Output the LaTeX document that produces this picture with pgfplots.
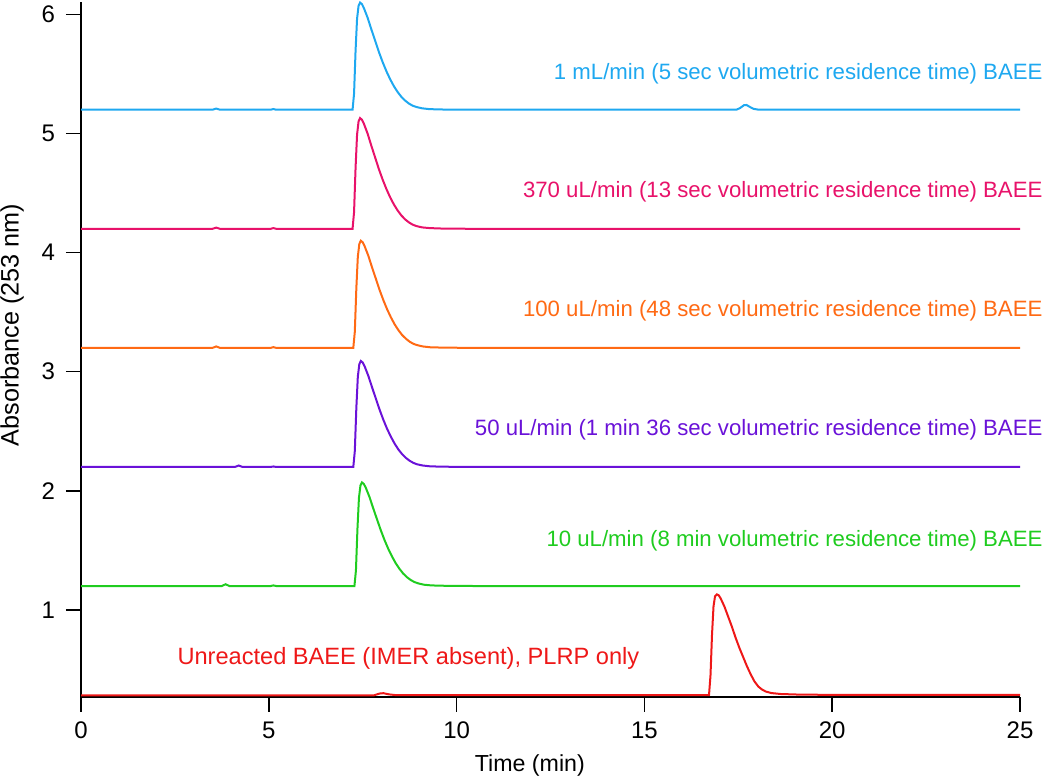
\documentclass[border=0pt]{standalone}
\usepackage{pgfplots}
\pgfplotsset{compat=1.18}
\usepackage{fontspec}
\setmainfont{Liberation Sans}
\definecolor{cblue}{RGB}{30,168,240}
\definecolor{cpink}{RGB}{232,18,106}
\definecolor{corange}{RGB}{255,106,20}
\definecolor{cpurple}{RGB}{106,18,216}
\definecolor{cgreen}{RGB}{31,204,31}
\definecolor{cred}{RGB}{238,24,24}
\begin{document}
\begin{tikzpicture}
\useasboundingbox (-40.5pt,-41pt) rectangle (484.5pt,348.5pt);
\begin{axis}[
  scale only axis, width=469.5pt, height=347.5pt,
  xmin=0, xmax=25, ymin=0.268, ymax=6.105,
  axis x line*=bottom, axis y line*=left,
  axis line style={line width=1pt, -},
  xtick={0,5,...,25}, ytick={1,2,3,4,5,6},
  tick style={line width=0.8pt, black},
  tick align=outside, major tick length=7.5pt,
  /pgf/number format/assume math mode=true,
  ticklabel style={font=\fontsize{12}{14}\selectfont},
  yticklabel style={xshift=-2pt},
  xticklabel style={yshift=-1.5pt},
  xlabel={Time (min)}, ylabel={Absorbance (253 nm)},
  xlabel style={font=\fontsize{11.6}{13}\selectfont, at={(rel axis cs:0.478,-0.098)}, anchor=center},
  ylabel style={font=\fontsize{12.6}{14}\selectfont, at={(rel axis cs:-0.0735,0.535)}, anchor=center},
  clip=false,
  every axis plot/.append style={line width=1pt, no marks},
]
% blue
\addplot[cblue] coordinates {(0,5.2) (3.5,5.2) (3.6,5.21) (3.7,5.2) (5.05,5.2) (5.12,5.206) (5.2,5.2)
 (7.23,5.2) (7.27,5.335) (7.31,5.695) (7.35,5.965) (7.39,6.073) (7.43,6.1) (7.48,6.087) (7.53,6.055) (7.63,5.974) (7.73,5.875) (7.83,5.781) (7.93,5.686) (8.03,5.601) (8.13,5.524) (8.23,5.457) (8.33,5.398) (8.43,5.349) (8.53,5.308) (8.63,5.277) (8.73,5.252) (8.83,5.234) (8.93,5.223) (9.08,5.212) (9.28,5.205) (9.63,5.202) (10.43,5.2)
 (17.45,5.2) (17.55,5.215) (17.65,5.238) (17.72,5.24) (17.8,5.225) (17.9,5.208) (18.05,5.2) (25,5.2)};
% pink
\addplot[cpink] coordinates {(0,4.2) (3.5,4.2) (3.6,4.21) (3.7,4.2) (5.05,4.2) (5.12,4.206) (5.2,4.2)
 (7.23,4.2) (7.27,4.340) (7.31,4.712) (7.35,4.991) (7.39,5.102) (7.43,5.13) (7.48,5.116) (7.53,5.084) (7.63,5.0) (7.73,4.898) (7.83,4.8) (7.93,4.702) (8.03,4.614) (8.13,4.535) (8.23,4.465) (8.33,4.405) (8.43,4.354) (8.53,4.312) (8.63,4.279) (8.73,4.254) (8.83,4.235) (8.93,4.223) (9.08,4.212) (9.28,4.206) (9.63,4.202) (10.43,4.2) (25,4.2)};
% orange
\addplot[corange] coordinates {(0,3.2) (3.5,3.2) (3.6,3.212) (3.7,3.2) (5.05,3.2) (5.12,3.206) (5.2,3.2)
 (7.25,3.2) (7.29,3.335) (7.33,3.695) (7.37,3.965) (7.41,4.073) (7.45,4.1) (7.50,4.087) (7.55,4.055) (7.65,3.974) (7.75,3.875) (7.85,3.781) (7.95,3.686) (8.05,3.601) (8.15,3.524) (8.25,3.457) (8.35,3.398) (8.45,3.349) (8.55,3.308) (8.65,3.277) (8.75,3.252) (8.85,3.234) (8.95,3.223) (9.10,3.212) (9.30,3.205) (9.65,3.202) (10.45,3.2) (25,3.2)};
% purple
\addplot[cpurple] coordinates {(0,2.2) (4.1,2.2) (4.2,2.212) (4.3,2.2) (5.05,2.2) (5.12,2.204) (5.2,2.2)
 (7.25,2.2) (7.29,2.334) (7.33,2.690) (7.37,2.957) (7.41,3.063) (7.45,3.09) (7.50,3.077) (7.55,3.046) (7.65,2.965) (7.75,2.868) (7.85,2.774) (7.95,2.681) (8.05,2.596) (8.15,2.520) (8.25,2.454) (8.35,2.396) (8.45,2.347) (8.55,2.307) (8.65,2.276) (8.75,2.252) (8.85,2.234) (8.95,2.222) (9.10,2.212) (9.30,2.205) (9.65,2.202) (10.45,2.2) (25,2.2)};
% green
\addplot[cgreen] coordinates {(0,1.2) (3.75,1.2) (3.85,1.215) (3.95,1.2) (5.05,1.2) (5.12,1.205) (5.2,1.2)
 (7.28,1.2) (7.32,1.331) (7.36,1.679) (7.40,1.940) (7.44,2.044) (7.48,2.07) (7.53,2.057) (7.58,2.027) (7.68,1.948) (7.78,1.853) (7.88,1.761) (7.98,1.670) (8.08,1.587) (8.18,1.513) (8.28,1.448) (8.38,1.391) (8.48,1.344) (8.58,1.304) (8.68,1.274) (8.78,1.250) (8.88,1.233) (8.98,1.222) (9.13,1.211) (9.33,1.205) (9.68,1.202) (10.48,1.2) (25,1.2)};
% red
\addplot[cred] coordinates {(0,0.282) (7.8,0.282) (7.95,0.297) (8.05,0.300) (8.2,0.29) (8.4,0.283) (12,0.283) (16.72,0.283)
 (16.76,0.45) (16.80,0.79) (16.84,1.028) (16.88,1.113) (16.93,1.13) (16.98,1.1215) (17.03,1.096) (17.13,1.028) (17.23,0.943) (17.33,0.858) (17.43,0.7645) (17.53,0.6795) (17.63,0.603) (17.73,0.5265) (17.83,0.4585) (17.93,0.399) (18.03,0.3565) (18.13,0.331) (18.23,0.314) (18.38,0.301) (18.63,0.293) (19.13,0.288) (19.93,0.286) (25,0.285)};
\begin{scope}[font=\fontsize{11.1}{13}\selectfont, inner sep=0pt]
\node[anchor=east, text=cblue] at (axis cs:25.61,5.50) {1 mL/min (5 sec volumetric residence time) BAEE};
\node[anchor=east, text=cpink] at (axis cs:25.61,4.51) {370 uL/min (13 sec volumetric residence time) BAEE};
\node[anchor=east, text=corange] at (axis cs:25.61,3.51) {100 uL/min (48 sec volumetric residence time) BAEE};
\node[anchor=east, text=cpurple] at (axis cs:25.61,2.515) {50 uL/min (1 min 36 sec volumetric residence time) BAEE};
\node[anchor=east, text=cgreen] at (axis cs:25.61,1.58) {10 uL/min (8 min volumetric residence time) BAEE};
\node[anchor=west, text=cred, font=\fontsize{11.8}{14}\selectfont] at (axis cs:2.56,0.596) {Unreacted BAEE (IMER absent), PLRP only};
\end{scope}
\end{axis}
\end{tikzpicture}
\end{document}
